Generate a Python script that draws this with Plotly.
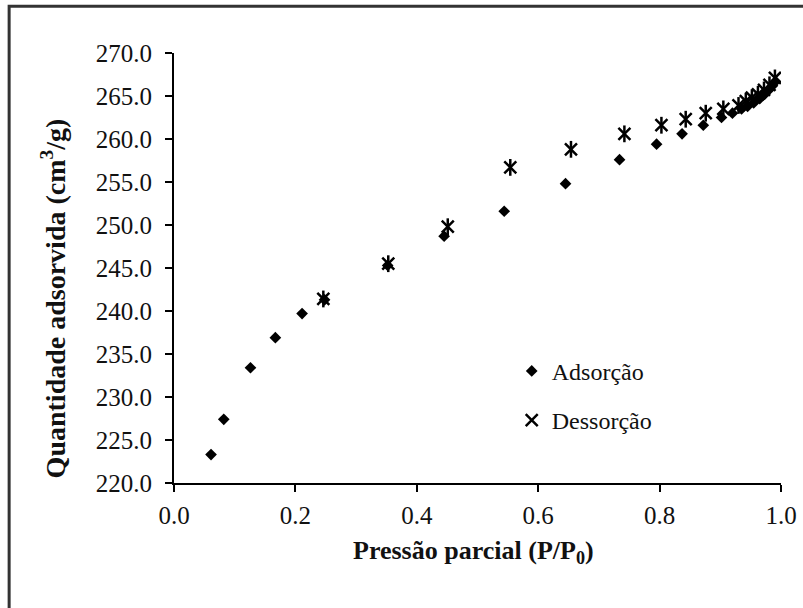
import plotly.graph_objects as go

# N2 isotherm: adsorption and desorption branches
ads_p = [0.061, 0.082, 0.126, 0.167, 0.211, 0.248, 0.352, 0.445, 0.544, 0.645,
         0.734, 0.795, 0.837, 0.872, 0.902, 0.920, 0.935, 0.945, 0.955, 0.965,
         0.973, 0.980, 0.986, 0.991]
ads_q = [223.3, 227.4, 233.4, 236.9, 239.7, 241.3, 245.3, 248.7, 251.6, 254.8,
         257.6, 259.4, 260.6, 261.6, 262.5, 263.0, 263.5, 263.8, 264.2, 264.7,
         265.2, 265.7, 266.2, 266.7]

des_p = [0.990, 0.981, 0.972, 0.962, 0.952, 0.942, 0.930, 0.905, 0.876, 0.843,
         0.803, 0.742, 0.654, 0.554, 0.451, 0.353, 0.246]
des_q = [267.1, 266.3, 265.7, 265.2, 264.8, 264.4, 263.9, 263.5, 263.0, 262.3,
         261.6, 260.6, 258.8, 256.7, 249.8, 245.5, 241.4]

x_ticks = [0.0, 0.2, 0.4, 0.6, 0.8, 1.0]
y_ticks = [220.0, 225.0, 230.0, 235.0, 240.0, 245.0, 250.0, 255.0, 260.0, 265.0, 270.0]

SERIF = "Liberation Serif"
INK = "#111111"

fig = go.Figure()

fig.add_trace(go.Scatter(
    x=ads_p, y=ads_q, mode="markers", name="Adsorção", legendgroup="ads",
    marker=dict(symbol="diamond", size=9, color="#000000", line=dict(width=0)),
))
# Excel-style star marker: an X crossed by a vertical bar
fig.add_trace(go.Scatter(
    x=des_p, y=des_q, mode="markers", name="Dessorção", legendgroup="des",
    marker=dict(symbol="x-thin-open", size=12, color="#000000",
                line=dict(width=2.5, color="#000000")),
))
fig.add_trace(go.Scatter(
    x=des_p, y=des_q, mode="markers", name="Dessorção", legendgroup="des",
    showlegend=False,
    marker=dict(symbol="line-ns-open", size=12, color="#000000",
                line=dict(width=2.5, color="#000000")),
))

W, H = 803, 608
L, R, T, B = 174, 21.5, 52.7, 125.3
pw, ph = W - L - R, H - T - B


def px_x(v):
    return (v - L) / pw


def px_y(v):
    return (H - B - v) / ph


axis_common = dict(
    showline=True, linecolor="#000000", linewidth=2,
    ticks="outside", ticklen=7, tickwidth=2, tickcolor="#000000",
    showgrid=False, zeroline=False, mirror=False,
    tickfont=dict(family=SERIF, size=25, color=INK),
    tickformat=".1f",
)

fig.update_layout(
    width=W, height=H,
    margin=dict(l=L, r=R, t=T, b=B, autoexpand=False),
    paper_bgcolor="#ffffff", plot_bgcolor="#ffffff",
    font=dict(family=SERIF, color=INK),
    xaxis=dict(range=[0, 1], tickvals=x_ticks, ticklabelstandoff=2, **axis_common),
    yaxis=dict(range=[220, 270], tickvals=y_ticks, ticklabelstandoff=8, **axis_common),
    showlegend=True,
    legend=dict(
        x=px_x(512), y=px_y(348.5), xanchor="left", yanchor="top",
        bgcolor="rgba(0,0,0,0)", borderwidth=0,
        font=dict(family=SERIF, size=24, color=INK),
        traceorder="grouped", tracegroupgap=15, itemwidth=30,
    ),
    annotations=[
        dict(text="Pressão parcial (P/P<sub>0</sub>)", xref="paper", yref="paper",
             x=px_x(474), y=px_y(552), xanchor="center", yanchor="middle",
             showarrow=False, font=dict(family=SERIF, size=26, color=INK, weight="bold")),
        dict(text="Quantidade adsorvida (cm<sup>3</sup>/g)", xref="paper", yref="paper",
             x=px_x(53), y=px_y(298), xanchor="center", yanchor="middle",
             textangle=-90, showarrow=False,
             font=dict(family=SERIF, size=28, color=INK, weight="bold")),
    ],
    shapes=[
        dict(type="rect", xref="paper", yref="paper",
             x0=px_x(9), x1=px_x(806), y0=px_y(612), y1=px_y(6),
             line=dict(color="#333333", width=3), fillcolor="rgba(0,0,0,0)",
             layer="below"),
    ],
)

fig.write_html("out.html")
